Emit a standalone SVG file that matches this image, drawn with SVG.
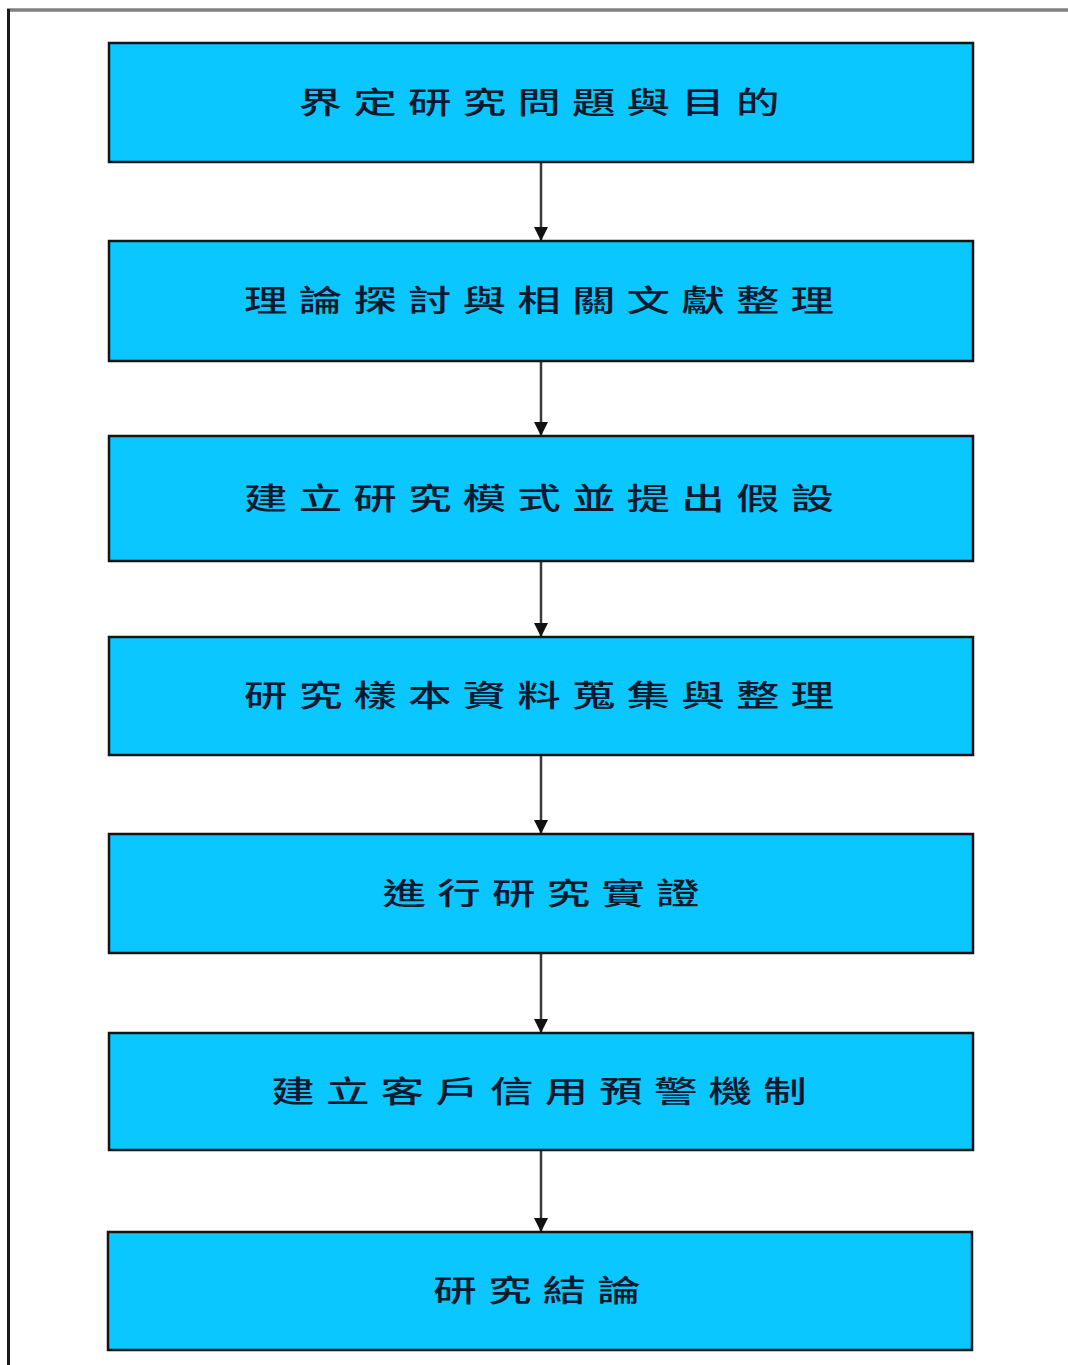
<svg xmlns="http://www.w3.org/2000/svg" width="1068" height="1365" viewBox="0 0 1068 1365">
  <style>
    .box { fill: #0AC8FF; stroke: #141414; stroke-width: 2.5; }
    .label { font-family: "Noto Sans CJK TC", "Noto Sans CJK SC", sans-serif; font-size: 30px; font-weight: 500; fill: #0a1a2e; text-anchor: middle; letter-spacing: 7.7px; }
    .link { stroke: #3a3a3a; stroke-width: 2.5; fill: none; marker-end: url(#head); }
  </style>
  <defs>
    <marker id="head" markerUnits="userSpaceOnUse" markerWidth="16" markerHeight="16" refX="14" refY="8" orient="auto">
      <path d="M0,1 L14,8 L0,15 Z" fill="#111"/>
    </marker>
  </defs>

  <rect width="1068" height="1365" fill="#ffffff"/>

  <!-- outer frame: top and left rules -->
  <line x1="7" y1="10" x2="1068" y2="10" stroke="#808080" stroke-width="3.5"/>
  <line x1="8.5" y1="9" x2="8.5" y2="1365" stroke="#1a1a1a" stroke-width="3"/>

  <g id="connectors">
    <line class="link" x1="541" y1="163" x2="541" y2="241"/>
    <line class="link" x1="541" y1="362" x2="541" y2="436"/>
    <line class="link" x1="541" y1="562" x2="541" y2="637"/>
    <line class="link" x1="541" y1="756" x2="541" y2="834"/>
    <line class="link" x1="541" y1="954" x2="541" y2="1033"/>
    <line class="link" x1="541" y1="1151" x2="541" y2="1232"/>
  </g>

  <g id="step1">
    <rect class="box" x="109" y="43" width="864" height="119"/>
    <text class="label" transform="translate(539,112.5) scale(1.45,1)" x="3.85">界定研究問題與目的</text>
  </g>
  <g id="step2">
    <rect class="box" x="109" y="241" width="864" height="120"/>
    <text class="label" transform="translate(539,311) scale(1.45,1)" x="3.85">理論探討與相關文獻整理</text>
  </g>
  <g id="step3">
    <rect class="box" x="109" y="436" width="864" height="125"/>
    <text class="label" transform="translate(539,508.5) scale(1.45,1)" x="3.85">建立研究模式並提出假設</text>
  </g>
  <g id="step4">
    <rect class="box" x="109" y="637" width="864" height="118"/>
    <text class="label" transform="translate(539,706) scale(1.45,1)" x="3.85">研究樣本資料蒐集與整理</text>
  </g>
  <g id="step5">
    <rect class="box" x="109" y="834" width="864" height="119"/>
    <text class="label" transform="translate(541,903.5) scale(1.45,1)" x="3.85">進行研究實證</text>
  </g>
  <g id="step6">
    <rect class="box" x="109" y="1033" width="864" height="117"/>
    <text class="label" transform="translate(539,1101.5) scale(1.45,1)" x="3.85">建立客戶信用預警機制</text>
  </g>
  <g id="step7">
    <rect class="box" x="108" y="1232" width="864" height="118"/>
    <text class="label" transform="translate(537,1301) scale(1.45,1)" x="3.85">研究結論</text>
  </g>
</svg>
